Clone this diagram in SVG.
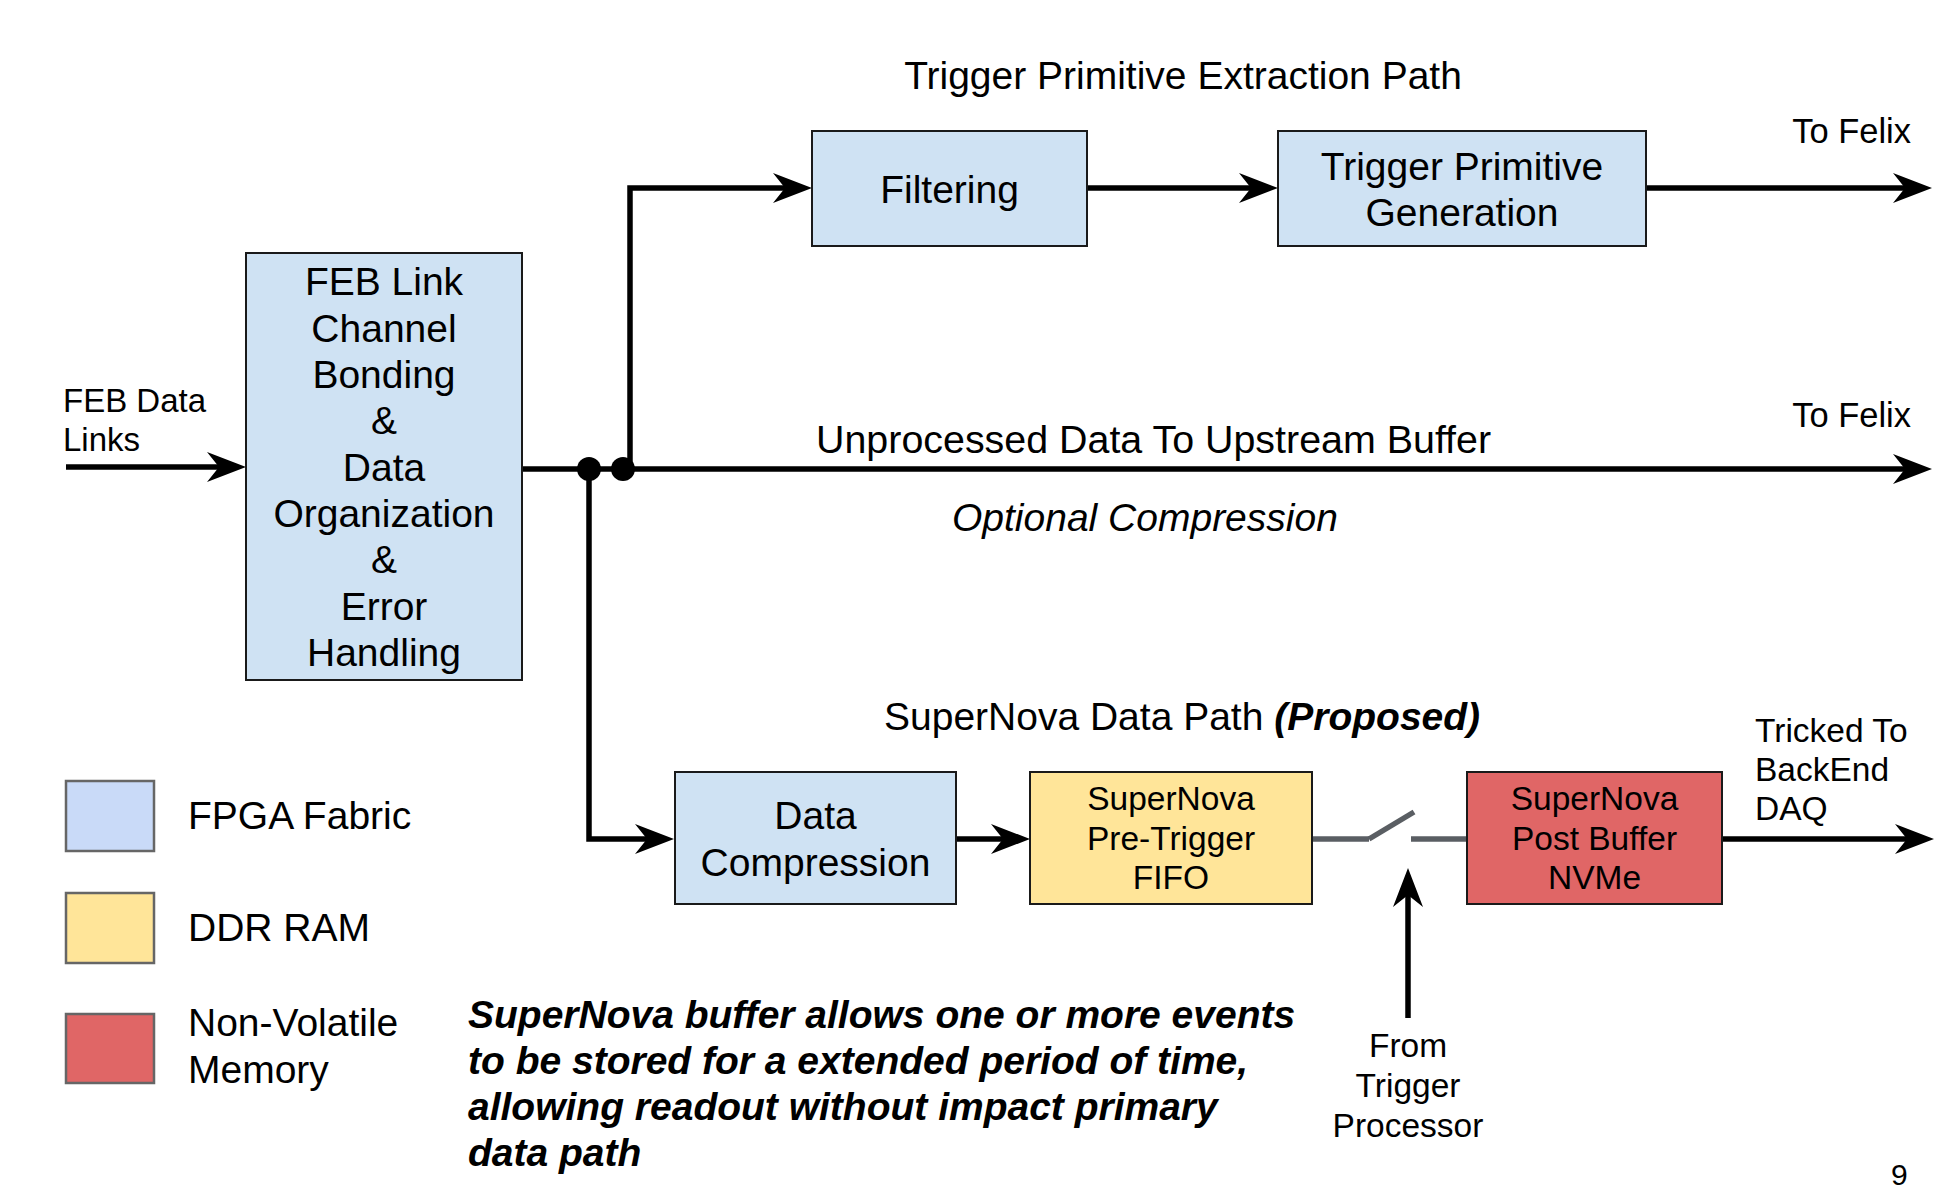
<svg xmlns="http://www.w3.org/2000/svg" width="1944" height="1204" viewBox="0 0 1944 1204">
<style>
text{font-family:"Liberation Sans",Arial,sans-serif;fill:#000}
.big{font-size:39px}
.sm{font-size:33.5px}
.c{text-anchor:middle}
.node{stroke:#1a1a1a;stroke-width:2}
.blue{fill:#cfe2f3}
.yel{fill:#ffe599}
.red{fill:#e06666}
.leg{stroke:#666;stroke-width:2.5}
.wire{fill:none;stroke:#000;stroke-width:5.5;stroke-linejoin:miter}
.arr{marker-end:url(#ah)}
.sw{fill:none;stroke:#5a5e63;stroke-width:5.5}
</style>
<defs>
<marker id="ah" markerUnits="userSpaceOnUse" viewBox="0 -16 40 32" refX="27" refY="0" markerWidth="40" markerHeight="32" orient="auto">
<path d="M0,-15 L39,0 L0,15 L12,0 Z" fill="#000"/>
</marker>
</defs>
<rect width="1944" height="1204" fill="#fff"/>

<g id="connectors">
<path class="wire arr" d="M66,467 H234"/>
<path class="wire arr" d="M522,469 H1920"/>
<path class="wire arr" d="M630,469 V188 H800"/>
<path class="wire arr" d="M1087,188 H1266"/>
<path class="wire arr" d="M1646,188 H1920"/>
<path class="wire arr" d="M589,469 V839 H662"/>
<path class="wire arr" d="M956,839 H1018"/>
<path class="wire arr" d="M1722,839 H1922"/>
<path class="wire arr" d="M1408,1018 V880"/>
<circle cx="589" cy="469" r="12" fill="#000"/>
<circle cx="623" cy="469" r="12" fill="#000"/>
<g id="switch">
<path class="sw" d="M1312,839 H1369"/>
<path class="sw" d="M1369,839 L1414,812"/>
<path class="sw" d="M1411,839 H1467"/>
</g>
</g>

<g id="feb">
<rect class="node blue" x="246" y="253" width="276" height="427"/>
<text class="big c" x="384" y="295">FEB Link</text>
<text class="big c" x="384" y="342">Channel</text>
<text class="big c" x="384" y="388">Bonding</text>
<text class="big c" x="384" y="434">&amp;</text>
<text class="big c" x="384" y="481">Data</text>
<text class="big c" x="384" y="527">Organization</text>
<text class="big c" x="384" y="573">&amp;</text>
<text class="big c" x="384" y="620">Error</text>
<text class="big c" x="384" y="666">Handling</text>
</g>

<g id="filtering">
<rect class="node blue" x="812" y="131" width="275" height="115"/>
<text class="big c" x="949.5" y="203">Filtering</text>
</g>

<g id="tpg">
<rect class="node blue" x="1278" y="131" width="368" height="115"/>
<text class="big c" x="1462" y="180">Trigger Primitive</text>
<text class="big c" x="1462" y="226">Generation</text>
</g>

<g id="datacomp">
<rect class="node blue" x="675" y="772" width="281" height="132"/>
<text class="big c" x="815.5" y="829">Data</text>
<text class="big c" x="815.5" y="876">Compression</text>
</g>

<g id="fifo">
<rect class="node yel" x="1030" y="772" width="282" height="132"/>
<text class="sm c" x="1171" y="810">SuperNova</text>
<text class="sm c" x="1171" y="850">Pre-Trigger</text>
<text class="sm c" x="1171" y="889">FIFO</text>
</g>

<g id="postbuffer">
<rect class="node red" x="1467" y="772" width="255" height="132"/>
<text class="sm c" x="1594.5" y="810">SuperNova</text>
<text class="sm c" x="1594.5" y="850">Post Buffer</text>
<text class="sm c" x="1594.5" y="889">NVMe</text>
</g>

<g id="labels">
<text class="big c" x="1183" y="89">Trigger Primitive Extraction Path</text>
<text style="font-size:34.5px" x="1911" y="143" text-anchor="end">To Felix</text>
<text style="font-size:34.5px" x="1911" y="427" text-anchor="end">To Felix</text>
<text style="font-size:33px" x="63" y="412">FEB Data</text>
<text style="font-size:33px" x="63" y="451">Links</text>
<text class="big" x="816" y="453" style="font-size:39.4px">Unprocessed Data To Upstream Buffer</text>
<text class="big" x="952" y="531" font-style="italic">Optional Compression</text>
<text class="big" x="884" y="730">SuperNova Data Path <tspan font-weight="bold" font-style="italic">(Proposed)</tspan></text>
<text class="sm" x="1755" y="742">Tricked To</text>
<text class="sm" x="1755" y="781">BackEnd</text>
<text class="sm" x="1755" y="820">DAQ</text>
<text class="sm c" x="1408" y="1057">From</text>
<text class="sm c" x="1408" y="1097">Trigger</text>
<text class="sm c" x="1408" y="1137">Processor</text>
<g font-weight="bold" font-style="italic">
<text class="big" x="468" y="1028">SuperNova buffer allows one or more events</text>
<text class="big" x="468" y="1074">to be stored for a extended period of time,</text>
<text class="big" x="468" y="1120">allowing readout without impact primary</text>
<text class="big" x="468" y="1166">data path</text>
</g>
<text style="font-size:30px" x="1891" y="1185">9</text>
</g>

<g id="legend">
<g id="legend-fpga">
<rect class="leg" x="66" y="781" width="88" height="70" fill="#c9daf8"/>
<text class="big" x="188" y="829">FPGA Fabric</text>
</g>
<g id="legend-ddr">
<rect class="leg" x="66" y="893" width="88" height="70" fill="#ffe599"/>
<text class="big" x="188" y="941">DDR RAM</text>
</g>
<g id="legend-nvm">
<rect class="leg" x="66" y="1014" width="88" height="69" fill="#e06666"/>
<text class="big" x="188" y="1036">Non-Volatile</text>
<text class="big" x="188" y="1083">Memory</text>
</g>
</g>
</svg>
